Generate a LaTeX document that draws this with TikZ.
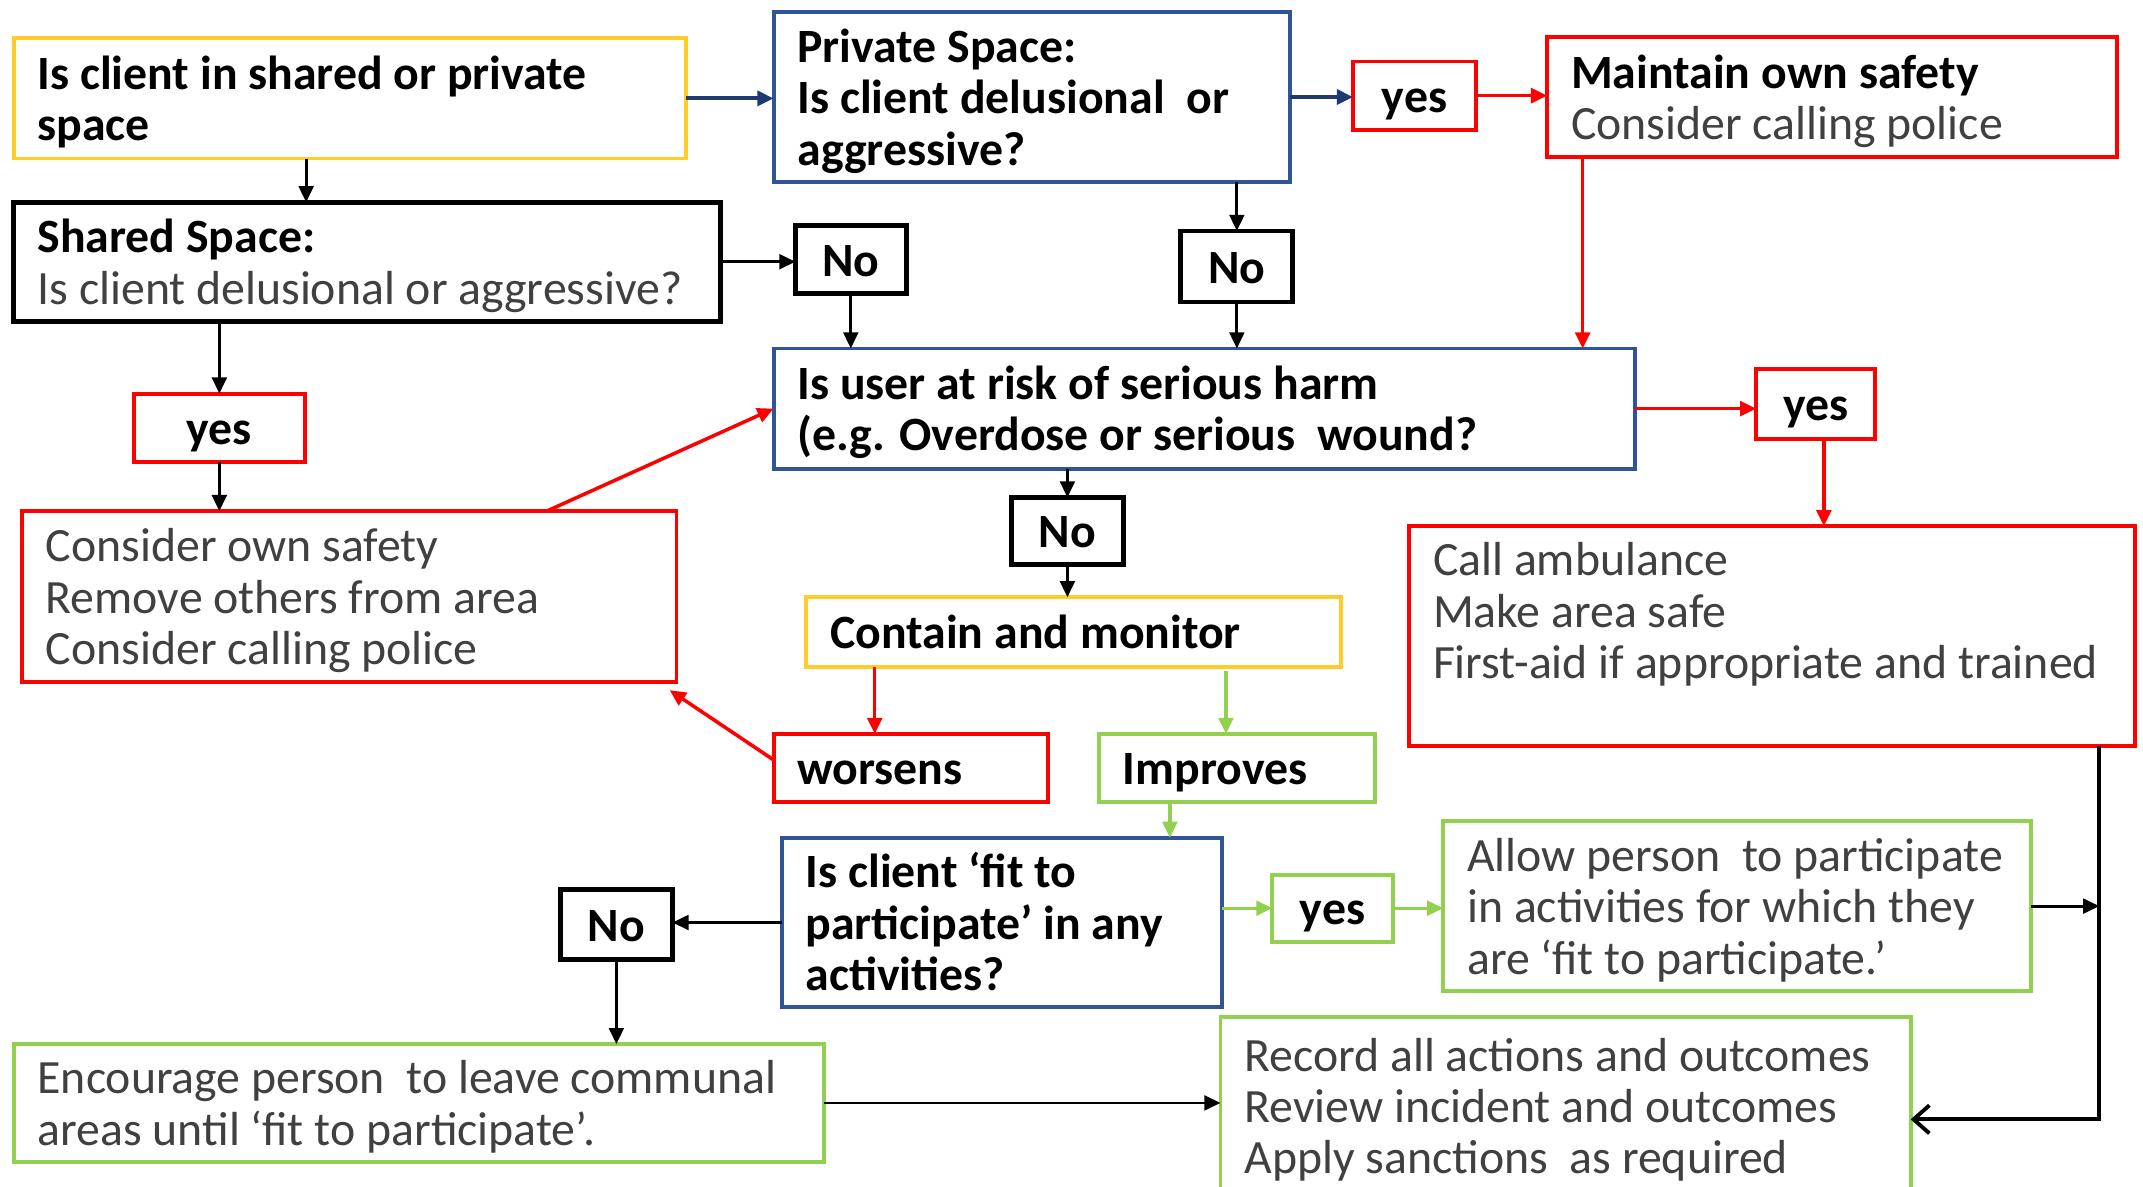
\documentclass[tikz,border=0pt]{standalone}
\usepackage{fontspec}
\setmainfont{Carlito}
\usetikzlibrary{arrows.meta,calc,fit}
\definecolor{cyel}{HTML}{FFCC29}
\definecolor{cblue}{HTML}{2F5597}
\definecolor{cred}{HTML}{FF0000}
\definecolor{cgreen}{HTML}{92D050}
\definecolor{cnavy}{HTML}{1F3A70}
\definecolor{cgray}{HTML}{404040}
\newcommand\bk[1]{\textbf{\color{black}#1}}
\newcommand\hst{\rule{0pt}{12.15pt}}
\newcommand\dst{\rule[-2.65pt]{0pt}{2.65pt}}
\newcommand\lbx[8]{%
  \node[box=#2, fit={(#3,#4) (#5,#6)}] (#1) {};
  \node[#7, anchor=west] (#1-t) at ($(#1.west)+(17,0)$) {\hst#8\dst};}
\newcommand\cbx[8]{%
  \node[box=#2, fit={(#3,#4) (#5,#6)}] (#1) {};
  \node[#7] (#1-t) at (#1.center) {\hst#8\dst};}
\begin{document}
\begin{tikzpicture}[x=0.013667cm, y=-0.013667cm,
  box/.style={draw=#1, line width=1.1pt, inner sep=0pt, outer sep=0pt},
  rt/.style={inner sep=0pt, align=left, text=cgray, font=\fontsize{13.6}{14.6}\selectfont},
  bt/.style={rt, text=black, font=\fontsize{13.6}{14.6}\selectfont\bfseries},
  tip/.style={-{Triangle[length=4.6pt,width=4.2pt]}},
  ka/.style={tip, line width=0.8pt, draw=black},
  ra/.style={tip, line width=1pt, draw=cred, fill=cred},
  ga/.style={tip, line width=0.9pt, draw=cgreen, fill=cgreen},
  na/.style={tip, line width=1.1pt, draw=cnavy, fill=cnavy}]
\useasboundingbox (0,0) rectangle (1568,868);
\fill[white] (0,0) rectangle (1568,868);
\clip (0,0) rectangle (1568,868);

\lbx{A}{cyel}{10}{28}{502}{116}{bt}{Is client in shared or private\\space}
\lbx{B}{cblue}{566}{9}{944}{133}{bt}{Private Space:\\Is client delusional\ \ or\\aggressive?}
\cbx{C}{cred}{990}{45}{1080}{95}{bt}{yes}
\lbx{D}{cred}{1132}{27}{1549}{115}{rt}{\bk{Maintain own safety}\\Consider calling police}
\lbx{E}{black, line width=1.4pt}{10}{148}{527}{235}{rt}{\bk{Shared Space:}\\Is client delusional or aggressive?}
\cbx{F}{black, line width=1.4pt}{582}{165}{663}{215}{bt}{No}
\cbx{G}{black, line width=1.4pt}{864}{169}{946}{221}{bt}{No}
\lbx{H}{cblue}{566}{255}{1196}{343}{bt}{Is user at risk of serious harm\\(e.g. Overdose or serious\ \ wound?}
\cbx{I}{cred}{98}{288}{223}{338}{bt}{yes}
\cbx{J}{cred}{1285}{270}{1372}{321}{bt}{yes}
\lbx{K}{cred}{16}{374}{495}{499}{rt}{Consider own safety\\Remove others from area\\Consider calling police}
\cbx{L}{black, line width=1.4pt}{740}{364}{822}{413}{bt}{No}
\lbx{M}{cyel}{590}{437}{981}{488}{bt}{Contain and monitor}
\lbx{N}{cred}{1031}{385}{1562}{546}{rt}{Call ambulance\\Make area safe\\First-aid if appropriate and trained\\\mbox{}}
\lbx{O}{cred}{566}{537}{767}{587}{bt}{worsens}
\lbx{P}{cgreen}{804}{537}{1006}{587}{bt}{Improves}
\lbx{Q}{cblue}{572}{613}{894}{737}{bt}{Is client ‘fit to\\participate’ in any\\activities?}
\cbx{R}{black, line width=1.4pt}{410}{651}{492}{702}{bt}{No}
\cbx{S}{cgreen}{931}{640}{1019}{689}{bt}{yes}
\lbx{T}{cgreen}{1056}{601}{1486}{725}{rt}{Allow person\ \ to participate\\in activities for which they\\are ‘fit to participate.’}
\lbx{U}{cgreen}{10}{764}{603}{850}{rt}{Encourage person\ \ to leave communal\\areas until ‘fit to participate’.}
\lbx{V}{cgreen}{893}{744}{1398}{874}{rt}{Record all actions and outcomes\\Review incident and outcomes\\Apply sanctions\ \ as required}

% helper coordinates on box edges
\coordinate (a1) at ($(A.south west)+(214,0)$);
\coordinate (d1) at ($(D.south west)+(26,0)$);
\coordinate (j1) at ($(J.south)+(6,0)$);
\coordinate (k1) at ($(K.north west)+(384,0)$);
\coordinate (m1) at ($(M.south west)+(50,0)$);
\coordinate (m2) at ($(M.south west)+(307,3)$);
\coordinate (p1) at ($(P.south west)+(52,0)$);
\coordinate (o1) at ($(O.north west)+(0,19)$);
\coordinate (k2) at ($(K.south east)+(-5,6)$);
\coordinate (n1) at ($(N.south east)+(-26,0)$);
\coordinate (v1) at ($(V.east)+(0,10)$);

% connectors
\draw[na] (A.east) -- (A.east -| B.west);
\draw[ka] (a1) -- (a1 |- E.north);
\draw[na] (B.east) -- (B.east -| C.west);
\draw[ra] (C.east) -- (C.east -| D.west);
\draw[ka] (B.south -| G.north) -- (G.north);
\draw[ka] (E.east) -- (E.east -| F.west);
\draw[ka] (F.south) -- (F.south |- H.north);
\draw[ka] (G.south) -- (G.south |- H.north);
\draw[ra] (d1) -- (d1 |- H.north);
\draw[ka] (I.north |- E.south) -- (I.north);
\draw[ka] (I.south) -- (I.south |- K.north);
\draw[ra] (k1) -- (H.west);
\draw[ra] (H.east) -- (H.east -| J.west);
\draw[ra] (j1) -- (j1 |- N.north);
\draw[ka] (L.north |- H.south) -- (L.north);
\draw[ka] (L.south) -- (L.south |- M.north);
\draw[ra] (m1) -- (m1 |- O.north);
\draw[ga] (m2) -- (m2 |- P.north);
\draw[ra] (o1) -- (k2);
\draw[ga] (p1) -- (p1 |- Q.north);
\draw[ka] (Q.west) -- (Q.west -| R.east);
\draw[ka] (R.south) -- (R.south |- U.north);
\draw[ga] (S.west -| Q.east) -- (S.west);
\draw[ga] (S.east) -- (S.east -| T.west);
\draw[ka] (T.east) -- (T.east -| n1);
\draw[black, line width=1.1pt, -{Straight Barb[length=4.5pt,width=8pt]}] (n1) |- (v1);
\draw[ka] (U.east) -- (U.east -| V.west);
\end{tikzpicture}
\end{document}
